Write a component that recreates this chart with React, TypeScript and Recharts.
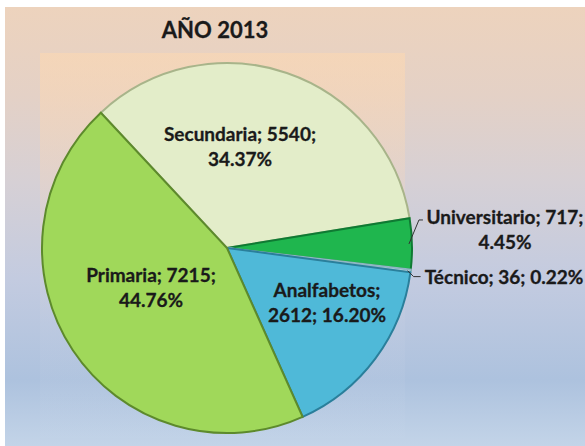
import React from 'react';
import { PieChart, Pie, Cell } from 'recharts';

const categories = ['Secundaria', 'Universitario', 'Técnico', 'Analfabetos', 'Primaria'];
const values = [5540, 717, 36, 2612, 7215];
const percentLabels = ['34.37%', '4.45%', '0.22%', '16.20%', '44.76%'];
const title = 'AÑO 2013';

const data = categories.map((name, i) => ({ name, value: values[i], pct: percentLabels[i] }));

const FILLS = ['#e3edc9', '#1fb64e', '#cfe6ee', '#4fb9d8', '#a0d85a'];
const STROKES = ['#a8b48a', '#0f7a33', '#8fb7c4', '#2a7f9b', '#5d8a2c'];

// label layout: offsets from pie center (px), line break style
const LABEL_LAYOUT: Record<string, { dx: number; dy: number; lines: (n: string, v: number, p: string) => string[]; leader?: number[] }> = {
  Secundaria: { dx: 13, dy: -115, lines: (n, v, p) => [`${n}; ${v};`, p] },
  Primaria: { dx: -76, dy: 26, lines: (n, v, p) => [`${n}; ${v};`, p] },
  Analfabetos: { dx: 100, dy: 41, lines: (n, v, p) => [`${n};`, `${v}; ${p}`] },
  Universitario: { dx: 278, dy: -32, lines: (n, v, p) => [`${n}; ${v};`, p], leader: [10, -24, 14, -24] },
  'Técnico': { dx: 277, dy: 28, lines: (n, v, p) => [`${n}; ${v}; ${p}`], leader: [6, 6, 13, 6] },
};

const RAD = Math.PI / 180;
const FONT = "Lato, 'Open Sans', sans-serif";

const renderLabel = (props: any) => {
  const { cx, cy, midAngle, outerRadius, name, value, payload, index } = props;
  const cfg = LABEL_LAYOUT[name];
  if (!cfg) return null;
  const pct = payload?.pct ?? percentLabels[index];
  const lines = cfg.lines(name, value, pct);
  const x = cx + cfg.dx;
  const y0 = cy + cfg.dy;
  let leader = null;
  if (cfg.leader) {
    const ex = cx + (outerRadius - 3) * Math.cos(-midAngle * RAD);
    const ey = cy + (outerRadius - 3) * Math.sin(-midAngle * RAD);
    const [ax, ay, bx, by] = cfg.leader;
    leader = (
      <path
        d={`M${ex},${ey} L${ex + ax},${ey + ay} L${ex + bx},${ey + by}`}
        fill="none"
        stroke="#333"
        strokeWidth={1}
      />
    );
  }
  return (
    <g key={`lbl-${index}`}>
      {leader}
      <text
        x={x}
        y={y0}
        textAnchor="middle"
        fontFamily={FONT}
        fontWeight={700}
        fontSize={19}
        fill="#1a1a1a"
        stroke="#1a1a1a"
        strokeWidth={0.3}
      >
        {lines.map((l, i) => (
          <tspan key={i} x={x} y={y0 + i * 25} dominantBaseline="central">
            {l}
          </tspan>
        ))}
      </text>
    </g>
  );
};

export default function App() {
  return (
    <div style={{ position: 'absolute', left: 0, top: 0, width: 585, height: 446, background: '#ffffff', overflow: 'hidden' }}>
      <div
        style={{
          position: 'absolute',
          left: 5,
          top: 7,
          width: 580,
          height: 439,
          background: 'linear-gradient(to bottom, #edd3bd 0%, #e4d1c6 20%, #d6d0d5 40%, #c3cbe0 62%, #adc2de 85%, #c3d4e8 100%)',
        }}
      />
      <div
        style={{
          position: 'absolute',
          left: 40,
          top: 53,
          width: 365,
          height: 385,
          background: 'linear-gradient(to bottom, rgba(252,216,178,0.6) 0%, rgba(245,214,190,0.3) 35%, rgba(210,215,230,0.12) 70%, rgba(200,214,234,0.1) 100%)',
        }}
      />
      <div
        style={{
          position: 'absolute',
          left: 115,
          top: 15,
          width: 200,
          textAlign: 'center',
          fontFamily: FONT,
          fontWeight: 700,
          fontSize: 22,
          color: '#1a1a1a',
          lineHeight: '30px',
          WebkitTextStroke: '0.3px #1a1a1a',
        }}
      >
        {title}
      </div>
      <div style={{ position: 'absolute', left: 0, top: 0 }}>
        <PieChart width={585} height={446}>
          <Pie
            data={data}
            dataKey="value"
            nameKey="name"
            cx={222}
            cy={243}
            outerRadius={185}
            startAngle={133}
            endAngle={-227}
            isAnimationActive={false}
            labelLine={false}
            label={renderLabel}
            stroke="#555"
          >
            {data.map((d, i) => (
              <Cell key={d.name} fill={FILLS[i]} stroke={STROKES[i]} strokeWidth={2} />
            ))}
          </Pie>
        </PieChart>
      </div>
    </div>
  );
}
